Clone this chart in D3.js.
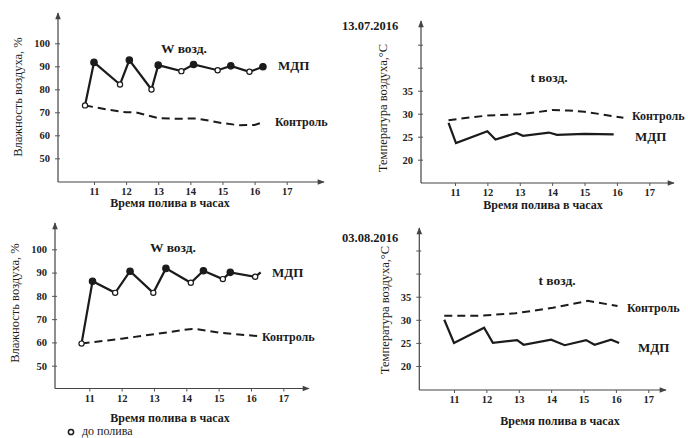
<!DOCTYPE html>
<html>
<head>
<meta charset="utf-8">
<script src="https://cdn.jsdelivr.net/npm/d3@7"></script>
<style>
  body { margin: 0; background: #fff; }
</style>
</head>
<body>
<svg id="chart" width="688" height="438"></svg>
<script>
// hours on x, value on y; "o" = до полива (open marker), "f" = after watering (filled)
const humJulyMdp = [
	[10.72, 73, "o"], [11.0, 91.7, "f"], [11.81, 82.1, "o"], [12.1, 92.7, "f"],
	[12.79, 79.9, "o"], [13.0, 90.5, "f"], [13.72, 87.9, "o"], [14.1, 90.8, "f"],
	[14.85, 88.3, "o"], [15.26, 90.2, "f"], [15.84, 87.6, "o"], [16.26, 89.8, "f"]
];
const humJulyCtrl = [
	[10.72, 73], [11.4, 71.2], [12.0, 70], [12.3, 70], [13.0, 67.5], [13.5, 67.2],
	[14.2, 67.3], [15.0, 65.3], [15.5, 64.4], [16.0, 64.5], [16.25, 65.6]
];
const tempJulyMdp = [
	[10.8, 28.0], [11.03, 23.6], [12.0, 26.2], [12.25, 24.4], [12.9, 25.8], [13.1, 25.2],
	[13.9, 25.9], [14.15, 25.4], [15.0, 25.6], [15.9, 25.5]
];
const tempJulyCtrl = [
	[10.8, 28.6], [11.5, 29.2], [12.0, 29.6], [13.0, 29.9], [13.5, 30.3], [14.0, 30.8],
	[14.5, 30.7], [15.0, 30.4], [15.5, 29.9], [16.2, 29.1]
];
const humAugMdp = [
	[10.76, 59.5, "o"], [11.1, 86.3, "f"], [11.8, 81.3, "o"], [12.26, 90.6, "f"],
	[12.98, 81.3, "o"], [13.37, 91.8, "f"], [14.14, 85.6, "o"], [14.53, 90.8, "f"],
	[15.13, 87.2, "o"], [15.36, 90.1, "f"], [16.13, 88.2, "o"], [16.3, 90.1, null]
];
const humAugCtrl = [
	[10.76, 59.5], [12.0, 61.6], [13.0, 63.5], [14.1, 65.7], [14.3, 65.8], [15.0, 64.2], [16.3, 62.6]
];
const tempAugMdp = [
	[10.7, 30.0], [11.0, 25.0], [11.93, 28.3], [12.2, 25.0], [12.95, 25.6], [13.15, 24.6],
	[14.0, 25.7], [14.42, 24.5], [15.08, 25.6], [15.34, 24.6], [15.85, 25.7], [16.1, 25.0]
];
const tempAugCtrl = [
	[10.7, 30.9], [11.8, 30.9], [12.9, 31.4], [14.05, 32.6], [15.13, 34.1], [16.05, 33.0]
];

const hourTicks = [11, 12, 13, 14, 15, 16, 17];
const humTicks = [50, 60, 70, 80, 90, 100];
const tempTicks = [20, 25, 30, 35];
const tempExtraTicks = [40, 45];

const xTitle = "Время полива в часах";
const FONT = "'Liberation Serif', 'Times New Roman', serif";

// layout of the four panels (pixel positions)
const panels = [
	{ mdp: humJulyMdp, ctrl: humJulyCtrl, ticks: humTicks, extra: [],
	  ox: 58, oy: 182, xEnd: 324, yTop: 13, x11: 94, x17: 286.7, yA: [50, 158.3], yB: [100, 43.3],
	  title: "W возд.", titlePos: [184, 53], mdpPos: [278, 70], ctrlPos: [275, 126],
	  xTitlePos: [170, 207], yLabel: "Влажность воздуха, %", yLabelPos: [18, 97] },
	{ mdp: tempJulyMdp, ctrl: tempJulyCtrl, ticks: tempTicks, extra: tempExtraTicks,
	  ox: 421, oy: 183, xEnd: 674, yTop: 21, x11: 455, x17: 649.3, yA: [20, 159.7], yB: [35, 90.7],
	  title: "t возд.", titlePos: [549, 82], mdpPos: [635, 141], ctrlPos: [632, 120],
	  xTitlePos: [543, 209], yLabel: "Температура воздуха,°C", yLabelPos: [383, 108],
	  date: "13.07.2016", datePos: [342, 30] },
	{ mdp: humAugMdp, ctrl: humAugCtrl, ticks: humTicks, extra: [],
	  ox: 55, oy: 388.5, xEnd: 309, yTop: 223, x11: 89.3, x17: 283.3, yA: [50, 365.7], yB: [100, 249.3],
	  title: "W возд.", titlePos: [173, 252], mdpPos: [272, 277], ctrlPos: [262, 341],
	  xTitlePos: [170, 422], yLabel: "Влажность воздуха, %", yLabelPos: [15, 303] },
	{ mdp: tempAugMdp, ctrl: tempAugCtrl, ticks: tempTicks, extra: tempExtraTicks,
	  ox: 419.3, oy: 390, xEnd: 666, yTop: 228, x11: 454, x17: 648.3, yA: [20, 366], yB: [35, 296.7],
	  title: "t возд.", titlePos: [557, 285], mdpPos: [638, 352], ctrlPos: [627, 312],
	  xTitlePos: [560, 425], yLabel: "Температура воздуха,°C", yLabelPos: [385, 310],
	  date: "03.08.2016", datePos: [342, 242] }
];

const svg = d3.select("#chart");

svg.append("defs")
	.append("marker")
	.attr("id", "arrow")
	.attr("viewBox", "0 0 10 10")
	.attr("refX", 9)
	.attr("refY", 5)
	.attr("markerWidth", 9)
	.attr("markerHeight", 7)
	.attr("markerUnits", "userSpaceOnUse")
	.attr("orient", "auto")
	.append("path")
	.attr("d", "M0,1 L10,5 L0,9 Z")
	.attr("fill", "#444");

function addText(g, pos, str, size, bold) {
	return g.append("text")
		.attr("x", pos[0]).attr("y", pos[1])
		.style("font-family", FONT)
		.style("font-size", size + "px")
		.style("font-weight", bold ? "bold" : "normal")
		.attr("fill", "#1b1b1b")
		.text(str);
}

function styleTicks(sel) {
	sel.select(".domain").remove();
	sel.selectAll("line").attr("stroke", "#555");
	sel.selectAll("text")
		.style("font-family", FONT)
		.style("font-size", "10.5px")
		.style("font-weight", "bold")
		.attr("fill", "#222");
}

function drawPanel(p) {
	const x = d3.scaleLinear().domain([11, 17]).range([p.x11, p.x17]);
	const y = d3.scaleLinear().domain([p.yA[0], p.yB[0]]).range([p.yA[1], p.yB[1]]);
	const g = svg.append("g");

	// axes with arrows
	g.append("line")
		.attr("x1", p.ox).attr("y1", p.oy).attr("x2", p.xEnd).attr("y2", p.oy)
		.attr("stroke", "#444").attr("stroke-width", 1.2)
		.attr("marker-end", "url(#arrow)");
	g.append("line")
		.attr("x1", p.ox).attr("y1", p.oy).attr("x2", p.ox).attr("y2", p.yTop)
		.attr("stroke", "#444").attr("stroke-width", 1.2)
		.attr("marker-end", "url(#arrow)");

	const xAxis = g.append("g")
		.attr("transform", "translate(0," + p.oy + ")")
		.call(d3.axisBottom(x).tickValues(hourTicks).tickFormat(d3.format("d"))
			.tickSize(3).tickPadding(3));
	styleTicks(xAxis);

	const yAxis = g.append("g")
		.attr("transform", "translate(" + p.ox + ",0)")
		.call(d3.axisLeft(y).tickValues(p.ticks.concat(p.extra))
			.tickFormat((d) => (p.extra.includes(d) ? "" : d))
			.tickSize(3).tickPadding(5));
	styleTicks(yAxis);
	yAxis.selectAll("line").attr("x2", 2).attr("x1", -3);

	const line = d3.line().x((d) => x(d[0])).y((d) => y(d[1]));

	g.append("path")
		.datum(p.ctrl)
		.attr("fill", "none")
		.attr("stroke", "#1b1b1b")
		.attr("stroke-width", 2)
		.attr("stroke-dasharray", "8,5")
		.attr("d", line);

	g.append("path")
		.datum(p.mdp)
		.attr("fill", "none")
		.attr("stroke", "#1b1b1b")
		.attr("stroke-width", 2.2)
		.attr("d", line);

	g.selectAll("circle.pt")
		.data(p.mdp.filter((d) => d[2]))
		.enter()
		.append("circle")
		.attr("class", "pt")
		.attr("cx", (d) => x(d[0]))
		.attr("cy", (d) => y(d[1]))
		.attr("r", (d) => (d[2] === "f" ? 3.2 : 2.6))
		.attr("fill", (d) => (d[2] === "f" ? "#1b1b1b" : "#fff"))
		.attr("stroke", "#1b1b1b")
		.attr("stroke-width", 1.2);

	addText(g, p.titlePos, p.title, 13.5, true).attr("text-anchor", "middle");
	addText(g, p.mdpPos, "МДП", 13, true);
	addText(g, p.ctrlPos, "Контроль", 12, true);
	addText(g, p.xTitlePos, xTitle, 12, true).attr("text-anchor", "middle");
	addText(g, [0, 0], p.yLabel, 12.5, false)
		.attr("transform", "translate(" + p.yLabelPos[0] + "," + p.yLabelPos[1] + ") rotate(-90)")
		.attr("text-anchor", "middle")
		.attr("dy", "0.35em");
	if (p.date) addText(g, p.datePos, p.date, 12.5, true);
}

panels.forEach(drawPanel);

// legend for open markers
svg.append("circle")
	.attr("cx", 71).attr("cy", 432)
	.attr("r", 2.6)
	.attr("fill", "#fff")
	.attr("stroke", "#1b1b1b")
	.attr("stroke-width", 1.5);
addText(svg, [82, 435], "до полива", 12, false);
</script>
</body>
</html>
